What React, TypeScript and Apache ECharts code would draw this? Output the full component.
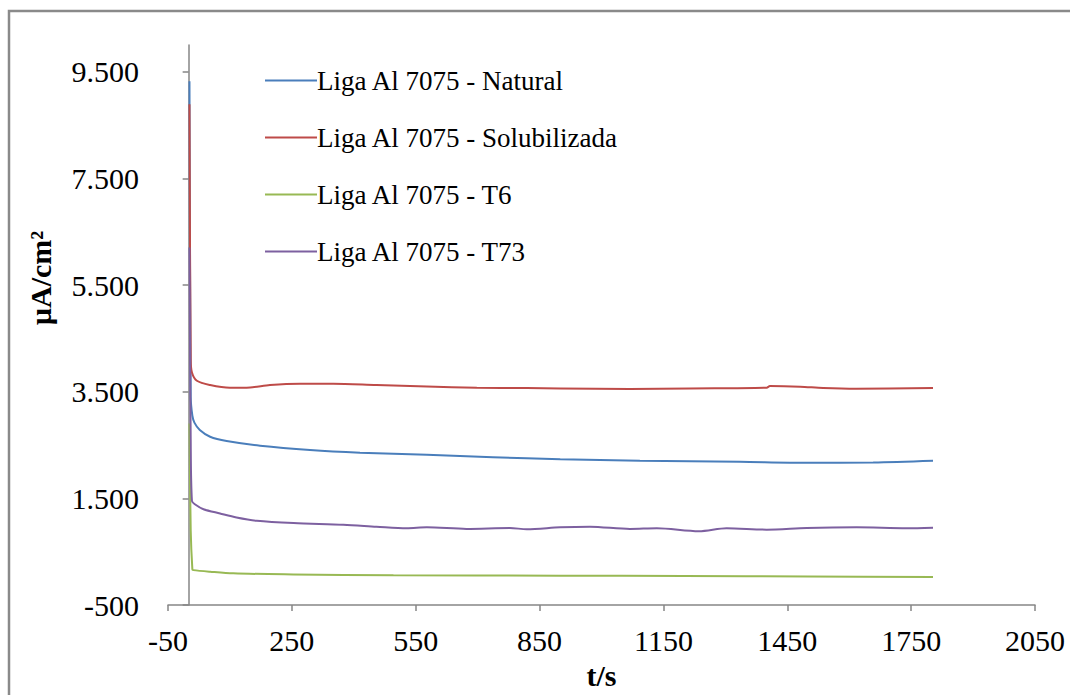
import React, { useEffect, useRef } from "react";
import * as echarts from "echarts";

const seriesNames = [
  "Liga Al 7075 - Natural",
  "Liga Al 7075 - Solubilizada",
  "Liga Al 7075 - T6",
  "Liga Al 7075 - T73",
];
const seriesColors = ["#4A7EBB", "#BE4B48", "#98B954", "#7D60A0"];

const natural: [number, number][] = [
  [2, 9320], [5, 3400], [9, 3050], [14, 2920], [27, 2780], [52, 2654], [92, 2574],
  [173, 2487], [294, 2407], [415, 2357], [577, 2315], [737, 2272], [900, 2235],
  [1093, 2204], [1335, 2185], [1497, 2167], [1658, 2172], [1803, 2204],
];
const solubilizada: [number, number][] = [
  [2, 8889], [5, 4100], [8, 3860], [20, 3704], [52, 3624], [100, 3574], [149, 3580],
  [197, 3624], [270, 3648], [350, 3648], [455, 3624], [577, 3598], [698, 3574],
  [819, 3568], [900, 3561], [1069, 3550], [1214, 3561], [1400, 3574], [1408, 3605],
  [1481, 3593], [1537, 3568], [1618, 3555], [1803, 3568],
];
const t6: [number, number][] = [
  [2, 2902], [5, 900], [9, 167], [11, 154], [52, 124], [108, 93], [253, 74],
  [496, 56], [900, 50], [1200, 43], [1500, 35], [1803, 24],
];
const t73: [number, number][] = [
  [2, 6204], [5, 2600], [8, 1450], [15, 1389], [36, 1296], [76, 1217], [116, 1142],
  [165, 1080], [254, 1037], [375, 1006], [455, 969], [528, 939], [577, 957],
  [673, 926], [778, 944], [819, 920], [900, 957], [972, 969], [1069, 926],
  [1134, 939], [1236, 883], [1303, 939], [1400, 913], [1497, 944], [1618, 957],
  [1739, 939], [1803, 950],
];
const seriesData = [natural, solubilizada, t6, t73];

const xTicks = [-50, 250, 550, 850, 1150, 1450, 1750, 2050];
const yTicks = [-500, 1500, 3500, 5500, 7500, 9500];

const fmtThousands = (v: number) => {
  const neg = v < 0;
  const s = String(Math.abs(Math.round(v))).replace(/\B(?=(\d{3})+(?!\d))/g, ".");
  return (neg ? "-" : "") + s;
};

const FONT = "'Liberation Serif', 'Times New Roman', serif";
const AXIS_COLOR = "#868686";

export default function App() {
  const ref = useRef<HTMLDivElement>(null);
  useEffect(() => {
    if (!ref.current) return;
    const chart = echarts.init(ref.current, undefined, { renderer: "svg" });
    chart.setOption({
      animation: false,
      backgroundColor: "#ffffff",
      grid: { left: 168, right: 35, top: 45, bottom: 83, containLabel: false },
      legend: {
        orient: "vertical",
        left: 260,
        top: 62,
        itemWidth: 52,
        itemHeight: 14,
        itemGap: 30,
        icon: "path://M0,6 L52,6 L52,8 L0,8 Z",
        data: seriesNames,
        textStyle: { fontFamily: FONT, fontSize: 27, color: "#000", padding: [0, 0, 0, -5] },
      },
      xAxis: {
        type: "value",
        min: -50,
        max: 2050,
        interval: 300,
        name: "t/s",
        nameLocation: "middle",
        nameGap: 55,
        nameTextStyle: { fontFamily: FONT, fontSize: 30, fontWeight: "bold", color: "#000" },
        axisLine: { show: true, onZero: false, lineStyle: { color: AXIS_COLOR, width: 1.5 } },
        axisTick: { show: true, inside: false, length: 6, lineStyle: { color: AXIS_COLOR, width: 1.5 }, customValues: xTicks },
        axisLabel: {
          fontFamily: FONT,
          fontSize: 30,
          color: "#000",
          margin: 20,
          customValues: xTicks,
          formatter: (v: number) => String(v),
        },
        splitLine: { show: false },
      },
      yAxis: {
        type: "value",
        min: -500,
        max: 10000,
        interval: 2000,
        axisLine: { show: true, lineStyle: { color: AXIS_COLOR, width: 1.5 } },
        axisTick: { show: true, inside: false, length: 6, lineStyle: { color: AXIS_COLOR, width: 1.5 }, customValues: yTicks },
        axisLabel: {
          fontFamily: FONT,
          fontSize: 30,
          color: "#000",
          margin: 29,
          customValues: yTicks,
          formatter: (v: number) => fmtThousands(v),
        },
        splitLine: { show: false },
      },
      graphic: [
        {
          type: "rect",
          shape: { x: 9, y: 11, width: 1200, height: 800 },
          style: { fill: "none", stroke: "#8a8a8a", lineWidth: 2.5 },
          silent: true,
        },
        {
          type: "text",
          x: 40,
          y: 278,
          rotation: Math.PI / 2,
          style: {
            text: "µA/cm²",
            font: `bold 30px ${FONT}`,
            fill: "#000",
            align: "center",
            verticalAlign: "middle",
          },
        },
      ],
      series: seriesNames.map((name, i) => ({
        name,
        type: "line",
        data: seriesData[i],
        symbol: "none",
        smooth: 0.3,
        lineStyle: { color: seriesColors[i], width: 2 },
        itemStyle: { color: seriesColors[i] },
      })),
    });
    return () => chart.dispose();
  }, []);
  return (
    <div
      ref={ref}
      style={{ position: "absolute", left: 0, top: 0, width: 1070, height: 695 }}
    />
  );
}
